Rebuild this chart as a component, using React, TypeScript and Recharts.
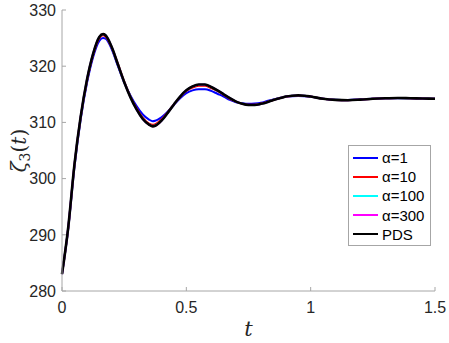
import { LineChart, Line, XAxis, YAxis, Legend, Label } from "recharts";

// time samples (finer where the curves bend)
const tValues = [
  0, 0.025, 0.05, 0.075, 0.1, 0.125, 0.15, 0.165, 0.175, 0.2, 0.225, 0.25, 0.275, 0.3, 0.325, 0.35,
  0.365, 0.375, 0.4, 0.425, 0.45, 0.475, 0.5, 0.525, 0.55, 0.575, 0.6, 0.625, 0.65, 0.675, 0.7,
  0.725, 0.75, 0.775, 0.8, 0.825, 0.85, 0.875, 0.9, 0.925, 0.95, 0.975, 1.0, 1.05, 1.1, 1.15, 1.2,
  1.25, 1.3, 1.35, 1.4, 1.45, 1.5,
];

const alpha1 = [
  283, 291, 302, 310.5, 316.9, 321.6, 324.5, 325.0, 324.9, 323.0, 320.0, 317.1, 314.8, 312.9, 311.4, 310.5,
  310.2, 310.3, 310.9, 311.9, 313.1, 314.3, 315.2, 315.7, 315.9, 315.9, 315.6, 315.1, 314.6, 314.0, 313.6,
  313.4, 313.3, 313.35, 313.5, 313.8, 314.1, 314.35, 314.55, 314.65, 314.7, 314.65, 314.55, 314.2, 314.05, 314.0, 314.1,
  314.2, 314.3, 314.3, 314.3, 314.25, 314.2,
];

const alpha10 = [
  283, 291.2, 302.4, 310.9, 317.3, 322.0, 325.0, 325.5, 325.3, 323.3, 320.4, 317.3, 314.6, 312.5, 310.8, 309.8,
  309.6, 309.7, 310.5, 311.8, 313.2, 314.5, 315.6, 316.2, 316.5, 316.5, 316.1, 315.6, 314.9, 314.2, 313.7,
  313.3, 313.15, 313.15, 313.35, 313.65, 314.0, 314.3, 314.55, 314.7, 314.75, 314.7, 314.6, 314.2, 314.0, 313.95, 314.05,
  314.2, 314.3, 314.35, 314.3, 314.25, 314.2,
];

const alpha100 = [
  283, 291.3, 302.5, 311.0, 317.5, 322.2, 325.2, 325.7, 325.5, 323.4, 320.3, 317.2, 314.5, 312.3, 310.6, 309.6,
  309.35, 309.45, 310.3, 311.7, 313.2, 314.6, 315.7, 316.4, 316.7, 316.7, 316.3, 315.7, 315.0, 314.3, 313.7,
  313.3, 313.1, 313.1, 313.3, 313.6, 314.0, 314.3, 314.6, 314.75, 314.8, 314.75, 314.6, 314.2, 314.0, 313.95, 314.05,
  314.2, 314.3, 314.35, 314.3, 314.25, 314.2,
];

const alpha300 = [
  283, 291.3, 302.5, 311.0, 317.5, 322.2, 325.2, 325.7, 325.5, 323.4, 320.3, 317.2, 314.5, 312.3, 310.6, 309.6,
  309.3, 309.4, 310.3, 311.7, 313.2, 314.6, 315.7, 316.4, 316.7, 316.7, 316.3, 315.7, 315.0, 314.3, 313.7,
  313.3, 313.1, 313.1, 313.3, 313.6, 314.0, 314.3, 314.6, 314.75, 314.8, 314.75, 314.6, 314.2, 314.0, 313.95, 314.05,
  314.2, 314.3, 314.35, 314.3, 314.25, 314.2,
];

const pds = [
  283, 291.3, 302.5, 311.0, 317.5, 322.2, 325.2, 325.7, 325.5, 323.4, 320.3, 317.2, 314.5, 312.3, 310.6, 309.6,
  309.3, 309.4, 310.3, 311.7, 313.2, 314.6, 315.7, 316.4, 316.75, 316.75, 316.3, 315.7, 315.0, 314.3, 313.7,
  313.3, 313.1, 313.1, 313.3, 313.6, 314.0, 314.3, 314.6, 314.75, 314.8, 314.75, 314.6, 314.2, 314.0, 313.95, 314.05,
  314.2, 314.3, 314.35, 314.3, 314.25, 314.2,
];

const xTicks = [0, 0.5, 1, 1.5];
const yTicks = [280, 290, 300, 310, 320, 330];

const series = [
  { key: "a1", name: "\u03b1=1", color: "#0000ff", values: alpha1, width: 2 },
  { key: "a10", name: "\u03b1=10", color: "#ff0000", values: alpha10, width: 2 },
  { key: "a100", name: "\u03b1=100", color: "#00ffff", values: alpha100, width: 2 },
  { key: "a300", name: "\u03b1=300", color: "#ff00ff", values: alpha300, width: 2 },
  { key: "pds", name: "PDS", color: "#000000", values: pds, width: 2.6 },
];

const data = tValues.map((t, i) => {
  const row: Record<string, number> = { t };
  series.forEach((s) => (row[s.key] = s.values[i]));
  return row;
});

const FONT = "'Liberation Sans', Arial, sans-serif";
const AXIS = "#a6a6a6";
const TEXT = "#262626";
const PLOT_LEFT = 62;
const PLOT_BOTTOM = 291;

// MATLAB-style ticks: small marks pointing into the plot
function YTick(props: any) {
  const { y, payload } = props;
  return (
    <g>
      <line x1={PLOT_LEFT} x2={PLOT_LEFT + 4} y1={y} y2={y} stroke={AXIS} />
      <text x={PLOT_LEFT - 6} y={y} dy="0.36em" textAnchor="end" fill={TEXT} style={{ fontFamily: FONT, fontSize: 16 }}>
        {payload.value}
      </text>
    </g>
  );
}

function XTick(props: any) {
  const { x, payload } = props;
  return (
    <g>
      <line x1={x} x2={x} y1={PLOT_BOTTOM} y2={PLOT_BOTTOM - 4} stroke={AXIS} />
      <text x={x} y={PLOT_BOTTOM + 11} dy="0.71em" textAnchor="middle" fill={TEXT} style={{ fontFamily: FONT, fontSize: 16 }}>
        {payload.value}
      </text>
    </g>
  );
}

function LegendBox() {
  return (
    <div
      style={{
        background: "#fff",
        border: "1px solid #a6a6a6",
        padding: "2px 6px 1px 4px",
        fontFamily: FONT,
        fontSize: 15,
        color: "#000",
        lineHeight: "19.2px",
      }}
    >
      {series.map((s) => (
        <div key={s.key} style={{ display: "flex", alignItems: "center" }}>
          <span style={{ display: "inline-block", width: 25, height: 2, background: s.color, marginRight: 4 }} />
          {s.name}
        </div>
      ))}
    </div>
  );
}

function YTitle(props: any) {
  const vb = props.viewBox || { x: 0, y: 0, height: 0 };
  const cx = vb.x + 26;
  const cy = vb.y + vb.height / 2;
  return (
    <text
      x={cx}
      y={cy}
      transform={`rotate(-90 ${cx} ${cy})`}
      textAnchor="middle"
      fill={TEXT}
      style={{ fontFamily: "'DejaVu Serif', 'Liberation Serif', serif", fontSize: 20 }}
    >
      <tspan fontStyle="italic">ζ</tspan>
      <tspan fontSize={14} dy={4}>3</tspan>
      <tspan dy={-4}>(</tspan>
      <tspan fontStyle="italic">t</tspan>
      <tspan>)</tspan>
    </text>
  );
}

function XTitle(props: any) {
  const vb = props.viewBox || { x: 0, y: 0, width: 0 };
  return (
    <text
      x={vb.x + vb.width / 2}
      y={vb.y + 45}
      textAnchor="middle"
      fill={TEXT}
      style={{ fontFamily: "'DejaVu Serif', 'Liberation Serif', serif", fontSize: 21, fontStyle: "italic" }}
    >
      t
    </text>
  );
}

export default function App() {
  return (
    <div style={{ position: "absolute", left: 0, top: 0, width: 449, height: 343, background: "#fff" }}>
      <LineChart width={449} height={343} data={data} margin={{ top: 10, right: 14, bottom: 0, left: 0 }}>
        <XAxis
          dataKey="t"
          type="number"
          domain={[0, 1.5]}
          ticks={xTicks}
          height={52}
          stroke={AXIS}
          tickLine={false}
          tick={<XTick />}
        >
          <Label content={<XTitle />} />
        </XAxis>
        <YAxis
          type="number"
          domain={[280, 330]}
          ticks={yTicks}
          width={62}
          stroke={AXIS}
          tickLine={false}
          tick={<YTick />}
        >
          <Label content={<YTitle />} />
        </YAxis>
        {series.map((s) => (
          <Line
            key={s.key}
            dataKey={s.key}
            name={s.name}
            type="monotone"
            stroke={s.color}
            strokeWidth={s.width}
            dot={false}
            activeDot={false}
            isAnimationActive={false}
          />
        ))}
        <Legend
          layout="horizontal"
          verticalAlign="middle"
          align="center"
          content={<LegendBox />}
          wrapperStyle={{ left: 348, top: 145, width: "auto" }}
        />
      </LineChart>
    </div>
  );
}
